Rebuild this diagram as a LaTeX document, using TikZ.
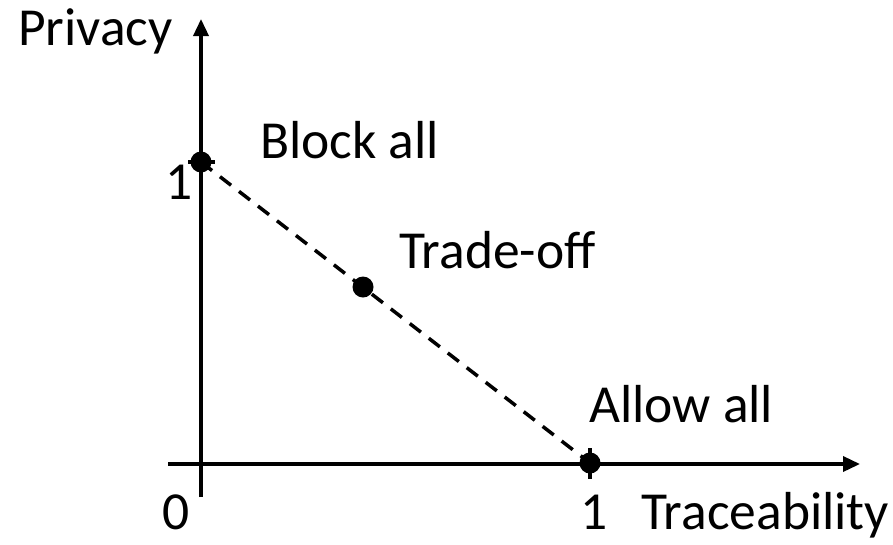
\documentclass[tikz,border=0pt]{standalone}
\usepackage{fontspec}
\setmainfont{Carlito}
\usetikzlibrary{arrows.meta}
\begin{document}
\begin{tikzpicture}[x=1pt,y=-1pt,
  axis/.style={line width=3.5pt,-{Triangle[length=17pt,width=15pt]}},
  tick/.style={line width=3.5pt},
  trade/.style={line width=3.5pt,dash pattern=on 14pt off 10pt},
  dot/.style={circle,fill=black,inner sep=0pt,minimum size=21pt},
  lbl/.style={anchor=base west,inner sep=0pt,font=\fontsize{53.5}{64}\selectfont}]
\useasboundingbox (0,0) rectangle (893,544);
% axes
\coordinate (yb) at (201,497);
\coordinate (yt) at (201,19);
\coordinate (xl) at (168,464);
\coordinate (xr) at (860,464);
\draw[axis] (yb) -- (yt);
\draw[axis] (xl) -- (xr);
% ticks
\coordinate (t1a) at (188,162);
\coordinate (t1b) at (215,162);
\coordinate (t2a) at (590,448);
\coordinate (t2b) at (590,479);
\draw[tick] (t1a) -- (t1b);
\draw[tick] (t2a) -- (t2b);
% trade-off line and points
\node[dot] (block) at (201,162) {};
\node[dot] (mid) at (363,287) {};
\node[dot] (allow) at (590,463) {};
\draw[trade] (block.center) -- (allow.center);
% labels
\node[lbl] (privacy) at (18,45) {Privacy};
\node[lbl] (one) at (165,199) {1};
\node[lbl] (blk) at (260,158) {Block all};
\node[lbl] (tr) at (399,268) {Trade-off};
\node[lbl] (al) at (589,422) {Allow all};
\node[lbl] (zero) at (162,529) {0};
\node[lbl] (onex) at (580,529) {1};
\node[lbl] (trace) at (641,529) {Traceability};
\end{tikzpicture}
\end{document}
